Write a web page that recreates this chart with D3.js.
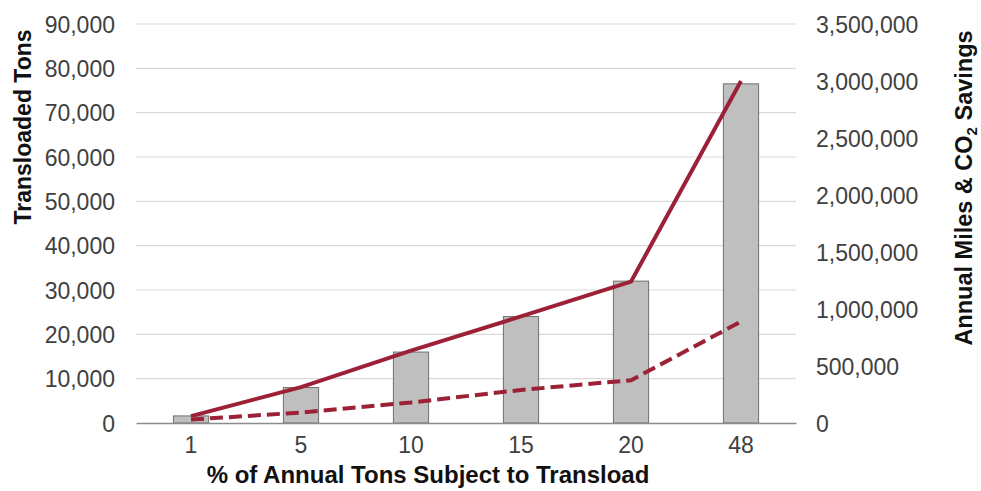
<!DOCTYPE html>
<html>
<head>
<meta charset="utf-8">
<script src="https://cdn.jsdelivr.net/npm/d3@7"></script>
<style>
  body { margin: 0; background: #fff; }
  text { font-family: "Liberation Sans", Arial, sans-serif; }
</style>
</head>
<body>
<div id="chart"></div>
<script>
// data
const categories = ["1", "5", "10", "15", "20", "48"];
const tons = [1600, 8000, 16000, 24000, 32000, 76500];
const miles = [60000, 315000, 635000, 935000, 1240000, 3000000];
const co2 = [30000, 92000, 180000, 290000, 375000, 890000];
const leftTicks = d3.range(0, 90001, 10000);
const rightTicks = d3.range(0, 3500001, 500000);

const W = 981, H = 491;
let margin = { top: 24, right: 185, bottom: 68, left: 136 },
  width = W - margin.left - margin.right,
  height = H - margin.top - margin.bottom;

let svg = d3
  .select("#chart")
  .append("svg")
  .attr("width", W)
  .attr("height", H)
  .append("g")
  .attr("transform", "translate(" + margin.left + "," + margin.top + ")");

const x = d3.scaleBand().domain(categories).range([0, width]).paddingInner(0.68).paddingOuter(0.34);
const xc = (i) => x(categories[i]) + x.bandwidth() / 2;
const yL = d3.scaleLinear().domain([0, 90000]).range([height, 0]);
const yR = d3.scaleLinear().domain([0, 3500000]).range([height, 0]);
const fmt = d3.format(",");

// gridlines
svg
  .append("g")
  .selectAll("line")
  .data(leftTicks.slice(1))
  .join("line")
  .attr("x1", 0)
  .attr("x2", width)
  .attr("y1", (d) => yL(d))
  .attr("y2", (d) => yL(d))
  .attr("stroke", "#d9d9d9")
  .attr("stroke-width", 1.2);

// left axis
const leftAxis = svg
  .append("g")
  .call(d3.axisLeft(yL).tickValues(leftTicks).tickFormat(fmt).tickSize(0).tickPadding(21));
leftAxis.select(".domain").remove();
leftAxis.selectAll("text").attr("font-size", 23).attr("fill", "#404040").attr("dy", "0.36em");

// right axis
const rightAxis = svg
  .append("g")
  .attr("transform", `translate(${width},0)`)
  .call(d3.axisRight(yR).tickValues(rightTicks).tickFormat(fmt).tickSize(0).tickPadding(20));
rightAxis.select(".domain").remove();
rightAxis.selectAll("text").attr("font-size", 23).attr("fill", "#404040").attr("dy", "0.36em");

// bars
svg
  .append("g")
  .selectAll("rect")
  .data(tons)
  .join("rect")
  .attr("x", (d, i) => x(categories[i]))
  .attr("y", (d) => yL(d))
  .attr("width", x.bandwidth())
  .attr("height", (d) => height - yL(d))
  .attr("fill", "#bfbfbf")
  .attr("stroke", "#6f6f6f")
  .attr("stroke-width", 1);

// bottom axis
const bottomAxis = svg
  .append("g")
  .attr("transform", `translate(0,${height})`)
  .call(d3.axisBottom(x).tickSize(0).tickPadding(14));
bottomAxis.select(".domain").attr("stroke", "#8c8c8c").attr("stroke-width", 1.5);
bottomAxis.selectAll("text").attr("font-size", 23).attr("fill", "#404040");

// lines
const line = d3
  .line()
  .x((d, i) => xc(i))
  .y((d) => yR(d));

svg
  .append("path")
  .datum(co2)
  .attr("d", line)
  .attr("fill", "none")
  .attr("stroke", "#9c2136")
  .attr("stroke-width", 4)
  .attr("stroke-dasharray", "13,6");

svg
  .append("path")
  .datum(miles)
  .attr("d", line)
  .attr("fill", "none")
  .attr("stroke", "#9c2136")
  .attr("stroke-width", 4);

// axis titles
svg
  .append("text")
  .attr("transform", `translate(${-margin.left + 31},${127 - margin.top}) rotate(-90)`)
  .attr("text-anchor", "middle")
  .attr("font-size", 23)
  .attr("font-weight", "bold")
  .attr("fill", "#111")
  .text("Transloaded Tons");

const rt = svg
  .append("text")
  .attr("transform", `translate(${972 - margin.left},${188 - margin.top}) rotate(-90)`)
  .attr("text-anchor", "middle")
  .attr("font-size", 23.5)
  .attr("font-weight", "bold")
  .attr("fill", "#111");
rt.append("tspan").text("Annual Miles & CO");
rt.append("tspan").attr("font-size", 15).attr("dy", 5).text("2");
rt.append("tspan").attr("dy", -5).text(" Savings");

svg
  .append("text")
  .attr("x", 428 - margin.left)
  .attr("y", 483 - margin.top)
  .attr("text-anchor", "middle")
  .attr("font-size", 24)
  .attr("font-weight", "bold")
  .attr("fill", "#111")
  .text("% of Annual Tons Subject to Transload");
</script>
</body>
</html>
